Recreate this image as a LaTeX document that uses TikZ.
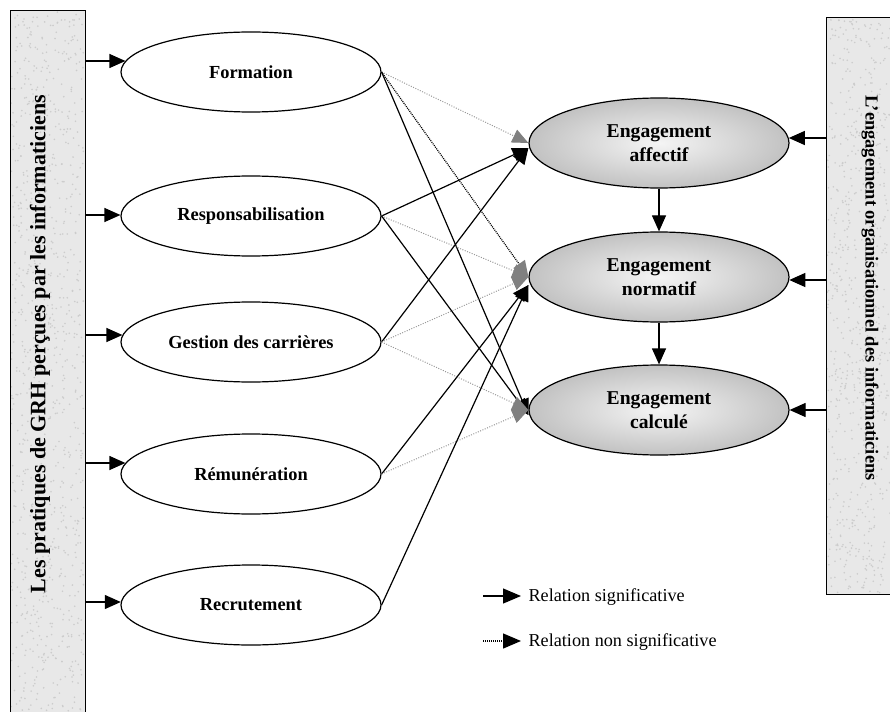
\documentclass[tikz,border=0pt]{standalone}
\usepackage{fontspec}
\setmainfont{Liberation Serif}
\usetikzlibrary{arrows.meta,shapes.geometric,calc}
\begin{document}
\begin{tikzpicture}[x=1pt,y=-1pt,
  practice/.style={ellipse, draw, line width=1.2pt, minimum width=260pt, minimum height=80pt, inner sep=0pt, fill=white, font=\bfseries\fontsize{18.4}{21}\selectfont},
  commit/.style={ellipse, draw, line width=1.2pt, minimum width=260pt, minimum height=90pt, inner sep=0pt, align=center, shading=radial, inner color=black!4, outer color=black!24, font=\bfseries\fontsize{19.6}{24}\selectfont},
  panel/.style={draw, line width=1pt, fill=black!9, inner sep=0pt},
  speck/.style={black!20},
  sig/.style={line width=1.2pt, -{Triangle[length=16pt,width=14pt]}},
  nsig/.style={line width=1pt, black!40, dash pattern=on 1pt off 1.5pt, -{Triangle[length=16pt,width=14pt,color=black!50,fill=black!50]}},
  nsigdark/.style={line width=1.2pt, black, dash pattern=on 1pt off 1pt, -{Triangle[length=16pt,width=14pt,color=black!50,fill=black!50]}},
  legtext/.style={anchor=west, font=\fontsize{18.2}{22}\selectfont},
]
\useasboundingbox (0,0) rectangle (890,711);

% side panels
\node[panel, minimum width=75pt, minimum height=702pt] (lp) at (47.5,362) {};
\node[panel, minimum width=70pt, minimum height=576pt] (rp) at (861,306) {};
\pgfmathsetseed{7}
\begin{scope}
  \clip (11,12) rectangle (84,711);
  \foreach \i in {1,...,900} {\fill[speck] ({11+73*rnd},{12+699*rnd}) circle (0.9);}
\end{scope}
\begin{scope}
  \clip (827,19) rectangle (890,593);
  \foreach \i in {1,...,700} {\fill[speck] ({827+63*rnd},{19+574*rnd}) circle (0.9);}
\end{scope}
\node[rotate=90, font=\bfseries\fontsize{22}{26}\selectfont] (lpt) at (40,344) {Les pratiques de GRH perçues par les informaticiens};
\node[rotate=-90, font=\bfseries\fontsize{18.4}{22}\selectfont] (rpt) at (870,288) {L’engagement organisationnel des informaticiens};

% practices
\node[practice] (f) at (251,72) {Formation};
\node[practice] (r) at (251,216) {Responsabilisation};
\node[practice] (g) at (251,342) {Gestion des carrières};
\node[practice] (m) at (251,474) {Rémunération};
\node[practice] (c) at (251,605) {Recrutement};

% commitments
\node[commit] (aff) at (659,143) {Engagement\\affectif};
\node[commit] (nor) at (659,277) {Engagement\\normatif};
\node[commit] (cal) at (659,410) {Engagement\\calculé};

% panel arrows
\coordinate (l1) at (85,61);
\coordinate (l2) at (85,215);
\coordinate (l3) at (85,335);
\coordinate (l4) at (85,463);
\coordinate (l5) at (85,602);
\draw[sig] (l1) -- ($(f.west)+(5,-11)$);
\draw[sig] (l2) -- ($(r.west)+(0,-1)$);
\draw[sig] (l3) -- ($(g.west)+(2,-7)$);
\draw[sig] (l4) -- ($(m.west)+(5,-11)$);
\draw[sig] (l5) -- ($(c.west)+(0.4,-3)$);

\coordinate (r1) at (826,138);
\coordinate (r2) at (826,280);
\coordinate (r3) at (826,410);
\draw[sig] (r1) -- ($(aff.east)+(-0.8,-5)$);
\draw[sig] (r2) -- ($(nor.east)+(-0.3,3)$);
\draw[sig] (r3) -- (cal.east);

\draw[sig] (aff.south) -- (nor.north);
\draw[sig] (nor.south) -- (cal.north);

% relations
\draw[nsig] (f.east) -- (aff.west);
\draw[nsigdark] (f.east) -- (nor.west);
\draw[sig] (f.east) -- ([yshift=-5pt]cal.west);

\draw[sig] (r.east) -- ([yshift=-5pt]aff.west);
\draw[nsig] (r.east) -- (nor.west);
\draw[sig] (r.east) -- ([yshift=-5pt]cal.west);

\draw[sig] (g.east) -- ([yshift=-5pt]aff.west);
\draw[nsig] (g.east) -- (nor.west);
\draw[nsig] (g.east) -- (cal.west);

\draw[sig] (m.east) -- ([yshift=-8pt]nor.west);
\draw[nsig] (m.east) -- (cal.west);

\draw[sig] (c.east) -- ([yshift=-8pt]nor.west);

% legend
\coordinate (k1a) at (483,596);
\coordinate (k1b) at (521,596);
\coordinate (k2a) at (483,641);
\coordinate (k2b) at (521,641);
\draw[line width=1.2pt, -{Triangle[length=18pt,width=15pt]}] (k1a) -- (k1b);
\draw[line width=1.3pt, black, dash pattern=on 1pt off 1pt, -{Triangle[length=18pt,width=15pt,color=black,fill=black]}] (k2a) -- (k2b);
\node[legtext] (t1) at (525,597) {Relation significative};
\node[legtext] (t2) at (525,642) {Relation non significative};
\end{tikzpicture}
\end{document}
